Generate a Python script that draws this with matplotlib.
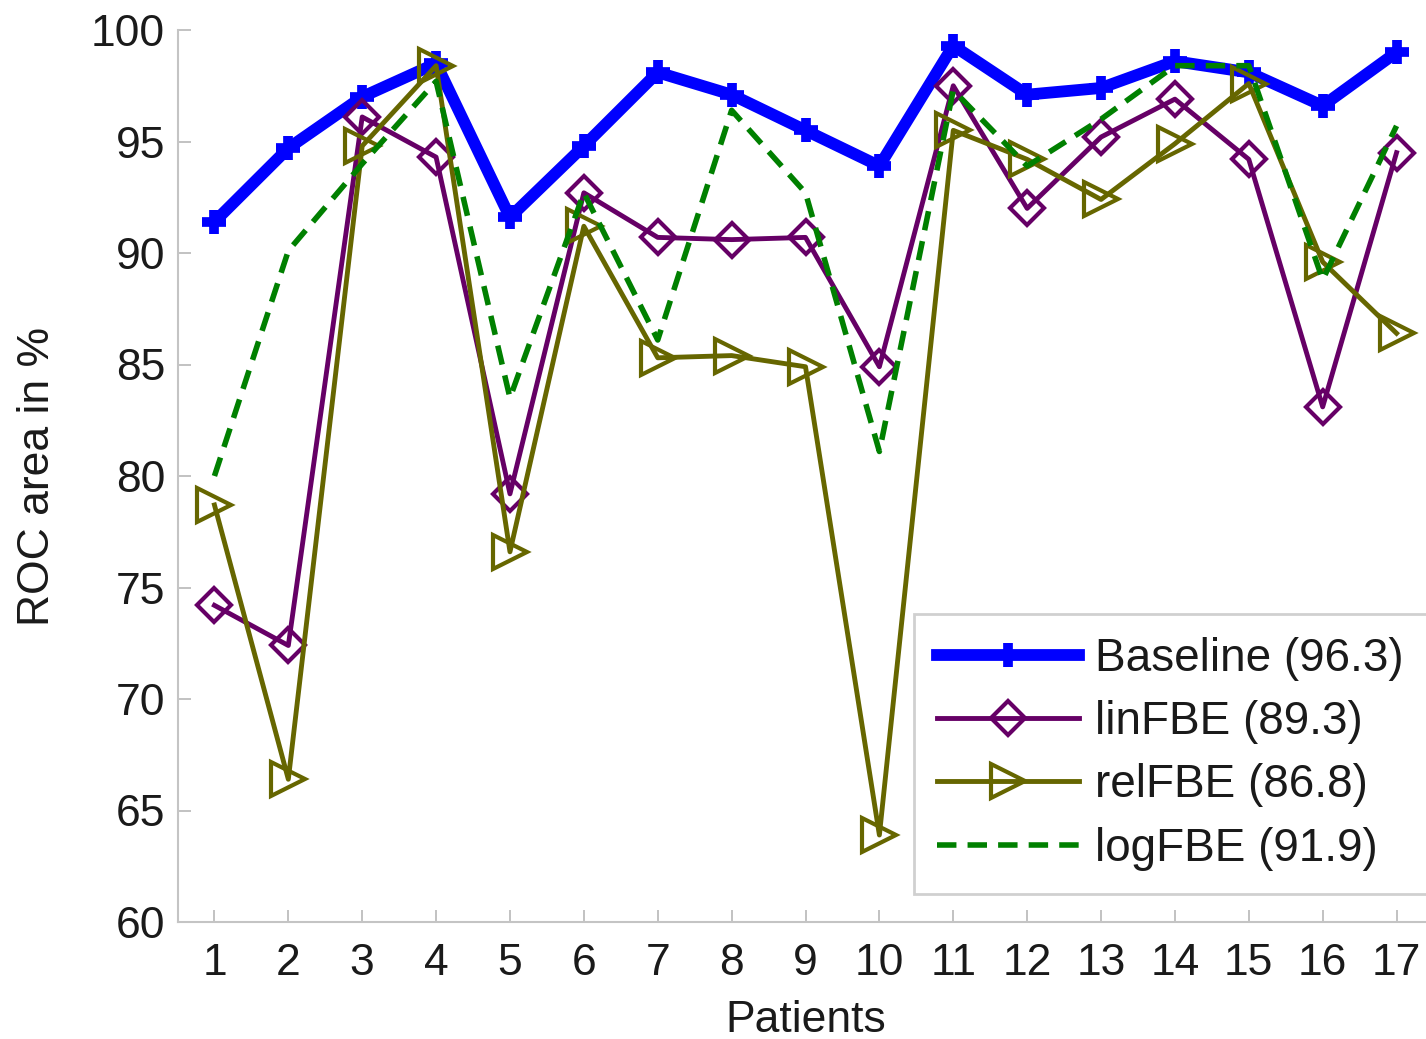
import numpy as np
import matplotlib
matplotlib.use("Agg")
import matplotlib.pyplot as plt

plt.rcParams['font.family'] = ['Liberation Sans', 'DejaVu Sans']

# ROC-Fläche pro Patient
patients = np.arange(1, 18)
baseline = [91.4, 94.7, 97.0, 98.5, 91.6, 94.8, 98.1, 97.1, 95.5,
            93.9, 99.3, 97.1, 97.4, 98.6, 98.1, 96.6, 99.0]
lin_fbe = [74.2, 72.4, 96.1, 94.3, 79.2, 92.7, 90.7, 90.6, 90.7,
           84.9, 97.5, 92.0, 95.2, 96.9, 94.2, 83.1, 94.5]
rel_fbe = [78.7, 66.4, 94.8, 98.4, 76.6, 91.2, 85.3, 85.4, 84.9,
           63.9, 95.5, 94.2, 92.4, 94.9, 97.6, 89.6, 86.4]
log_fbe = [80.0, 90.1, 94.0, 97.7, 83.5, 92.7, 86.1, 96.4, 92.7,
           81.1, 97.3, 93.9, 96.0, 98.4, 98.4, 88.8, 95.7]
labels = ["Baseline (96.3)", "linFBE (89.3)", "relFBE (86.8)", "logFBE (91.9)"]

fig = plt.figure(figsize=(14.26, 10.39), dpi=100)
# Achse ragt rechts leicht über das Bild hinaus (wie im Original beschnitten)
ax = fig.add_axes([177.5 / 1426, 1 - 922 / 1039, 1256 / 1426, 892 / 1039])

ax.plot(patients, baseline, color="#0000ff", lw=8.5, marker="+",
        ms=17, mew=7, label=labels[0])
ax.plot(patients, lin_fbe, color="#660066", lw=3.5, marker="D",
        ms=17, mew=3, mfc="none", label=labels[1])
ax.plot(patients, rel_fbe, color="#666600", lw=3.5, marker=">",
        ms=25, mew=3, mfc="none", label=labels[2])
ax.plot(patients, log_fbe, color="#008000", lw=4, ls=(0, (3.5, 2)),
        label=labels[3])

ax.set_xlim(0.5, 17.5)
ax.set_ylim(60, 100)
ax.set_xticks(patients)
ax.set_yticks(np.arange(60, 101, 5))

for s in ["top", "right"]:
    ax.spines[s].set_visible(False)
for s in ["left", "bottom"]:
    ax.spines[s].set_color("#c4c4c4")
    ax.spines[s].set_linewidth(1.5)

ax.tick_params(direction="in", length=9, width=1.2, color="#b8b8b8",
               labelsize=32, labelcolor="#1a1a1a", pad=9)
ax.tick_params(axis="x", pad=15)
ax.set_xlabel("Patients", fontsize=32, color="#1a1a1a", labelpad=12)
ax.set_ylabel("ROC area in %", fontsize=32, color="#1a1a1a", labelpad=24)

leg = ax.legend(loc="upper left", bbox_to_anchor=(914 / 1426, 1 - 614 / 1039),
                bbox_transform=fig.transFigure, borderaxespad=0,
                fontsize=33, handlelength=3.1, handletextpad=0.35,
                labelspacing=0.42, borderpad=0.5, fancybox=False,
                framealpha=1, edgecolor="#d0d0d0")
leg.get_frame().set_linewidth(2)
for t in leg.get_texts():
    t.set_color("#1a1a1a")

fig.savefig("out.png", dpi=100)
